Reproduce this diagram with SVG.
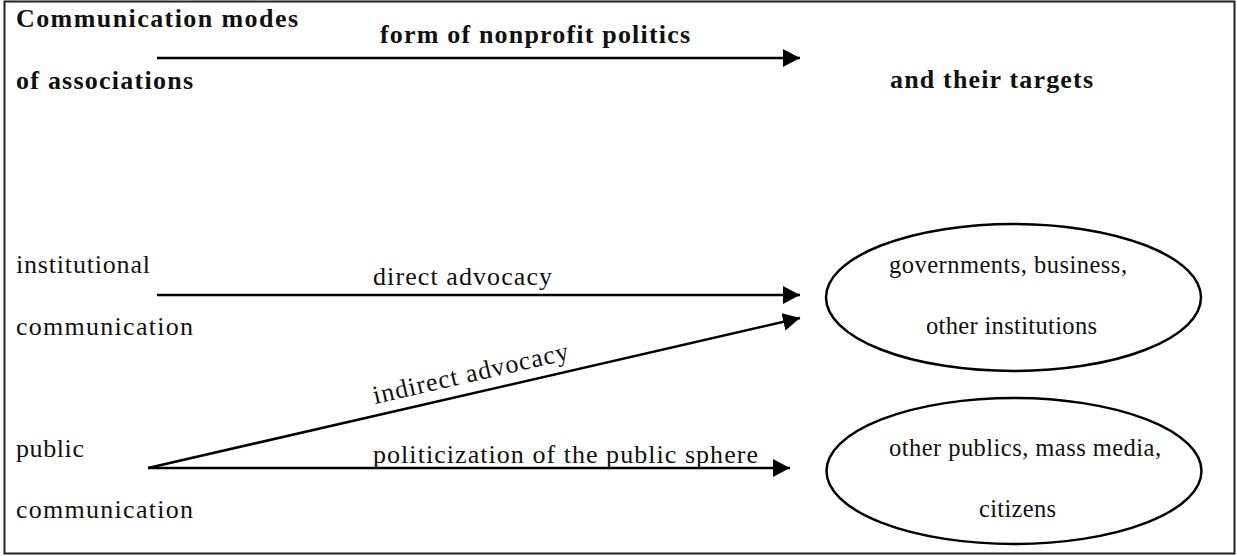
<svg xmlns="http://www.w3.org/2000/svg" width="1237" height="556" viewBox="0 0 1237 556">
  <style>
    text { font-family: "Liberation Serif", "Times New Roman", serif; font-size: 26px; fill: #111; }
    .head { font-weight: bold; font-size: 26px; }
    .small { font-size: 24.5px; }
    .conn { stroke: #000; stroke-width: 2.5; fill: none; }
    .target { fill: #fff; stroke: #000; stroke-width: 2.5; }
  </style>
  <defs>
    <marker id="arrow" markerUnits="userSpaceOnUse" markerWidth="18" markerHeight="19" refX="17" refY="9" orient="auto">
      <path d="M0,0 L17,9 L0,18 z" fill="#000"/>
    </marker>
  </defs>

  <rect x="4.5" y="1.5" width="1230" height="552" fill="#fff" stroke="#222" stroke-width="2"/>

  <!-- column headings -->
  <g id="heading">
    <text class="head" x="16" y="27" textLength="282">Communication modes</text>
    <text class="head" x="16" y="89" textLength="177">of associations</text>
    <text class="head" x="380" y="43" textLength="310">form of nonprofit politics</text>
    <text class="head" x="890" y="88" textLength="203">and their targets</text>
  </g>

  <!-- sources -->
  <g id="institutional">
    <text x="16" y="273" textLength="134">institutional</text>
    <text x="16" y="335" textLength="177">communication</text>
  </g>
  <g id="public">
    <text x="16" y="457" textLength="68">public</text>
    <text x="16" y="518" textLength="177">communication</text>
  </g>

  <!-- targets -->
  <g id="institutions-target">
    <ellipse class="target" cx="1013.5" cy="297.5" rx="187.5" ry="73.5"/>
    <text class="small" x="889" y="273" textLength="238">governments, business,</text>
    <text class="small" x="926" y="334" textLength="171">other institutions</text>
  </g>
  <g id="publics-target">
    <ellipse class="target" cx="1014" cy="471" rx="187.5" ry="73"/>
    <text class="small" x="889" y="456" textLength="272">other publics, mass media,</text>
    <text class="small" x="979" y="517" textLength="77">citizens</text>
  </g>

  <!-- connectors -->
  <g id="connectors">
    <line class="conn" x1="157" y1="58" x2="800" y2="58" marker-end="url(#arrow)"/>
    <line class="conn" x1="157" y1="295" x2="800" y2="295" marker-end="url(#arrow)"/>
    <line class="conn" x1="148" y1="468" x2="800" y2="318" marker-end="url(#arrow)"/>
    <line class="conn" x1="148" y1="468" x2="790" y2="468" marker-end="url(#arrow)"/>
    <text x="373" y="285" textLength="179">direct advocacy</text>
    <text x="375" y="404" textLength="200" transform="rotate(-12.95 375 404)">indirect advocacy</text>
    <text x="373" y="463" textLength="385">politicization of the public sphere</text>
  </g>
</svg>
